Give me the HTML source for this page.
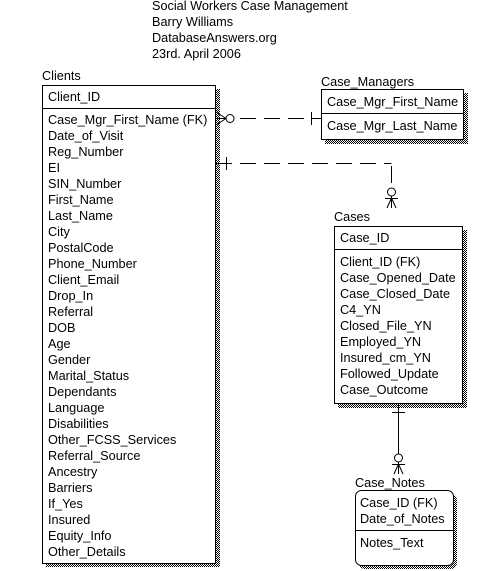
<!DOCTYPE html>
<html><head><meta charset="utf-8"><style>
html,body{margin:0;padding:0;background:#fff;width:501px;height:571px;overflow:hidden}
svg text{font-family:"Liberation Sans",Arial,sans-serif;font-size:12.7px;fill:#000}
</style></head><body>
<svg width="501" height="571" xmlns="http://www.w3.org/2000/svg">
<defs><pattern id="sh" width="2" height="2" patternUnits="userSpaceOnUse"><rect width="1" height="1" fill="#000"/><rect x="1" y="1" width="1" height="1" fill="#000"/></pattern></defs>
<g style="font-size:13px">
<text x="152" y="10">Social Workers Case Management</text>
<text x="152" y="26">Barry Williams</text>
<text x="152" y="42">DatabaseAnswers.org</text>
<text x="152" y="58">23rd. April 2006</text>
</g>
<!-- Clients -->
<text x="42" y="80">Clients</text>
<rect x="216" y="89" width="4" height="478" fill="url(#sh)"/>
<rect x="46" y="564" width="174" height="3" fill="url(#sh)"/>
<rect x="42.5" y="85.5" width="173" height="478" fill="#fff" stroke="#000"/>
<line x1="42" y1="108.5" x2="216" y2="108.5" stroke="#000"/>
<text x="48" y="101">Client_ID</text>
<g>
<text x="48" y="124">Case_Mgr_First_Name (FK)</text>
<text x="48" y="140">Date_of_Visit</text>
<text x="48" y="156">Reg_Number</text>
<text x="48" y="172">EI</text>
<text x="48" y="188">SIN_Number</text>
<text x="48" y="204">First_Name</text>
<text x="48" y="220">Last_Name</text>
<text x="48" y="236">City</text>
<text x="48" y="252">PostalCode</text>
<text x="48" y="268">Phone_Number</text>
<text x="48" y="284">Client_Email</text>
<text x="48" y="300">Drop_In</text>
<text x="48" y="316">Referral</text>
<text x="48" y="332">DOB</text>
<text x="48" y="348">Age</text>
<text x="48" y="364">Gender</text>
<text x="48" y="380">Marital_Status</text>
<text x="48" y="396">Dependants</text>
<text x="48" y="412">Language</text>
<text x="48" y="428">Disabilities</text>
<text x="48" y="444">Other_FCSS_Services</text>
<text x="48" y="460">Referral_Source</text>
<text x="48" y="476">Ancestry</text>
<text x="48" y="492">Barriers</text>
<text x="48" y="508">If_Yes</text>
<text x="48" y="524">Insured</text>
<text x="48" y="540">Equity_Info</text>
<text x="48" y="556">Other_Details</text>
</g>
<!-- Case_Managers -->
<text x="321" y="86">Case_Managers</text>
<rect x="464" y="93" width="4" height="51" fill="url(#sh)"/>
<rect x="325" y="140" width="143" height="4" fill="url(#sh)"/>
<rect x="321.5" y="89.5" width="142" height="50" fill="#fff" stroke="#000"/>
<line x1="321" y1="113.5" x2="464" y2="113.5" stroke="#000"/>
<text x="327" y="106">Case_Mgr_First_Name</text>
<text x="327" y="130">Case_Mgr_Last_Name</text>
<!-- Cases -->
<text x="334" y="221">Cases</text>
<rect x="463" y="230" width="4" height="178" fill="url(#sh)"/>
<rect x="338" y="404" width="129" height="4" fill="url(#sh)"/>
<rect x="334.5" y="226.5" width="128" height="177" fill="#fff" stroke="#000"/>
<line x1="334" y1="249.5" x2="463" y2="249.5" stroke="#000"/>
<text x="340" y="242">Case_ID</text>
<text x="340" y="266">Client_ID (FK)</text>
<text x="340" y="282">Case_Opened_Date</text>
<text x="340" y="298">Case_Closed_Date</text>
<text x="340" y="314">C4_YN</text>
<text x="340" y="330">Closed_File_YN</text>
<text x="340" y="346">Employed_YN</text>
<text x="340" y="362">Insured_cm_YN</text>
<text x="340" y="378">Followed_Update</text>
<text x="340" y="394">Case_Outcome</text>
<!-- Case_Notes -->
<text x="355" y="487">Case_Notes</text>
<rect x="359" y="494" width="98" height="75" rx="6" fill="url(#sh)"/>
<rect x="355.5" y="490.5" width="98" height="75" rx="6" fill="#fff" stroke="#000"/>
<line x1="355" y1="530.5" x2="454" y2="530.5" stroke="#000"/>
<text x="360" y="507">Case_ID (FK)</text>
<text x="360" y="523">Date_of_Notes</text>
<text x="360" y="547">Notes_Text</text>
<!-- relationships -->
<g stroke="#000" fill="none">
<line x1="216" y1="118.5" x2="321" y2="118.5" stroke-dasharray="16,8"/>
<line x1="311.5" y1="112" x2="311.5" y2="125"/>
<line x1="216" y1="112" x2="226" y2="118.5"/><line x1="216" y1="125" x2="226" y2="118.5"/>
<circle cx="230" cy="118.5" r="4" fill="#fff"/>
<line x1="216" y1="163.5" x2="391.5" y2="163.5" stroke-dasharray="16,8"/>
<line x1="391.5" y1="166" x2="391.5" y2="183"/>
<line x1="226.5" y1="157" x2="226.5" y2="170"/>
<circle cx="391.5" cy="192" r="4" fill="#fff"/>
<line x1="385" y1="198.5" x2="398" y2="198.5"/>
<line x1="391.5" y1="198" x2="387" y2="208"/><line x1="391.5" y1="198" x2="396" y2="208"/><line x1="391.5" y1="196" x2="391.5" y2="208"/>
<line x1="398.5" y1="404" x2="398.5" y2="454"/>
<line x1="392" y1="412.5" x2="405" y2="412.5"/>
<circle cx="398.5" cy="458" r="4" fill="#fff"/>
<line x1="392" y1="464.5" x2="405" y2="464.5"/>
<line x1="398.5" y1="464" x2="394" y2="474"/><line x1="398.5" y1="464" x2="403" y2="474"/><line x1="398.5" y1="462" x2="398.5" y2="474"/>
</g>
</svg>
</body></html>
